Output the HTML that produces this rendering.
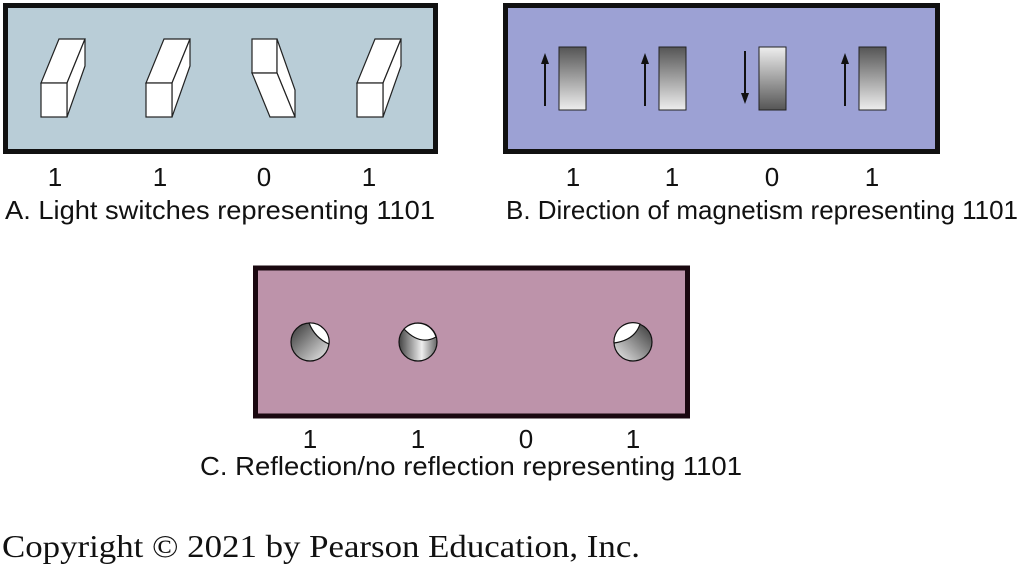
<!DOCTYPE html>
<html><head><meta charset="utf-8"><style>html,body{margin:0;padding:0;background:#fff}svg{display:block}</style></head>
<body>
<svg width="1020" height="567" viewBox="0 0 1020 567" xmlns="http://www.w3.org/2000/svg">
<defs>
<linearGradient id="mu" x1="0" y1="0" x2="0" y2="1"><stop offset="0" stop-color="#555"/><stop offset="1" stop-color="#eee"/></linearGradient>
<linearGradient id="md" x1="0" y1="0" x2="0" y2="1"><stop offset="0" stop-color="#eee"/><stop offset="1" stop-color="#555"/></linearGradient>
<linearGradient id="cg" x1="0" y1="0" x2="1" y2="0"><stop offset="0" stop-color="#444"/><stop offset="0.6" stop-color="#eee"/><stop offset="1" stop-color="#666"/></linearGradient>
<linearGradient id="cl" x1="0" y1="0" x2="1" y2="1"><stop offset="0" stop-color="#333"/><stop offset="1" stop-color="#eee"/></linearGradient>
<linearGradient id="cr" x1="1" y1="0" x2="0" y2="1"><stop offset="0" stop-color="#333"/><stop offset="1" stop-color="#eee"/></linearGradient>
</defs>
<g font-family="'Liberation Sans',sans-serif" fill="#111">
<rect x="5.5" y="5.5" width="430" height="146" fill="#b9cdd7" stroke="#111" stroke-width="5"/>
<g fill="#fff" stroke="#222" stroke-width="1.2">
<g id="sw">
<polygon points="41,83 67,83 85,39 59,39"/>
<polygon points="67,83 85,39 85,66 67,117"/>
<rect x="41" y="83" width="26" height="34"/>
</g>
<use href="#sw" x="105"/>
<use href="#sw" x="316"/>
<rect x="252" y="39" width="25" height="34"/>
<polygon points="277,39 295,90 295,117 277,73"/>
<polygon points="252,73 277,73 295,117 270,117"/>
</g>
<rect x="505.5" y="5.5" width="432" height="146" fill="#9ca1d4" stroke="#111" stroke-width="5"/>
<g stroke="#222" stroke-width="1">
<rect x="559" y="47" width="27" height="63" fill="url(#mu)"/>
<rect x="659" y="47" width="27" height="63" fill="url(#mu)"/>
<rect x="759" y="47" width="27" height="63" fill="url(#md)"/>
<rect x="859" y="47" width="27" height="63" fill="url(#mu)"/>
</g>
<g stroke="#111" stroke-width="2">
<line x1="545" y1="106" x2="545" y2="62"/><line x1="645" y1="106" x2="645" y2="62"/>
<line x1="745" y1="51" x2="745" y2="95"/><line x1="845" y1="106" x2="845" y2="62"/>
</g>
<polygon points="541,64 549,64 545,53"/><polygon points="641,64 649,64 645,53"/>
<polygon points="741,93 749,93 745,104"/><polygon points="841,64 849,64 845,53"/>
<rect x="255.5" y="268" width="432" height="148" fill="#bd93aa" stroke="#1a0810" stroke-width="5"/>
<g stroke="#111" stroke-width="1.2">
<circle cx="310" cy="342" r="19" fill="url(#cl)"/>
<path d="M309,323 A19,19 0 0 1 329,344 Q315,338 309,323Z" fill="#fff"/>
<circle cx="418" cy="342" r="19" fill="url(#cg)"/>
<path d="M404,329 A19,19 0 0 1 436,337 Q420,346 404,329Z" fill="#fff"/>
<circle cx="633" cy="342" r="19" fill="url(#cr)"/>
<path d="M614,343 A19,19 0 0 1 640,324 Q635,340 614,343Z" fill="#fff"/>
</g>
<g font-size="26" text-anchor="middle">
<text x="55" y="186">1</text><text x="160" y="186">1</text><text x="264" y="186">0</text><text x="369" y="186">1</text>
<text x="573" y="186">1</text><text x="672" y="186">1</text><text x="772" y="186">0</text><text x="872" y="186">1</text>
<text x="310" y="448">1</text><text x="418" y="448">1</text><text x="526" y="448">0</text><text x="633" y="448">1</text>
</g>
<g font-size="26">
<text x="5" y="219" textLength="430" lengthAdjust="spacingAndGlyphs">A. Light switches representing 1101</text>
<text x="506" y="219" textLength="512" lengthAdjust="spacingAndGlyphs">B. Direction of magnetism representing 1101</text>
<text x="200" y="475" textLength="542" lengthAdjust="spacingAndGlyphs">C. Reflection/no reflection representing 1101</text>
</g>
<text x="2" y="557" font-family="'Liberation Serif',serif" font-size="32" textLength="638" lengthAdjust="spacingAndGlyphs">Copyright © 2021 by Pearson Education, Inc.</text>
</g>
</svg>
</body></html>
